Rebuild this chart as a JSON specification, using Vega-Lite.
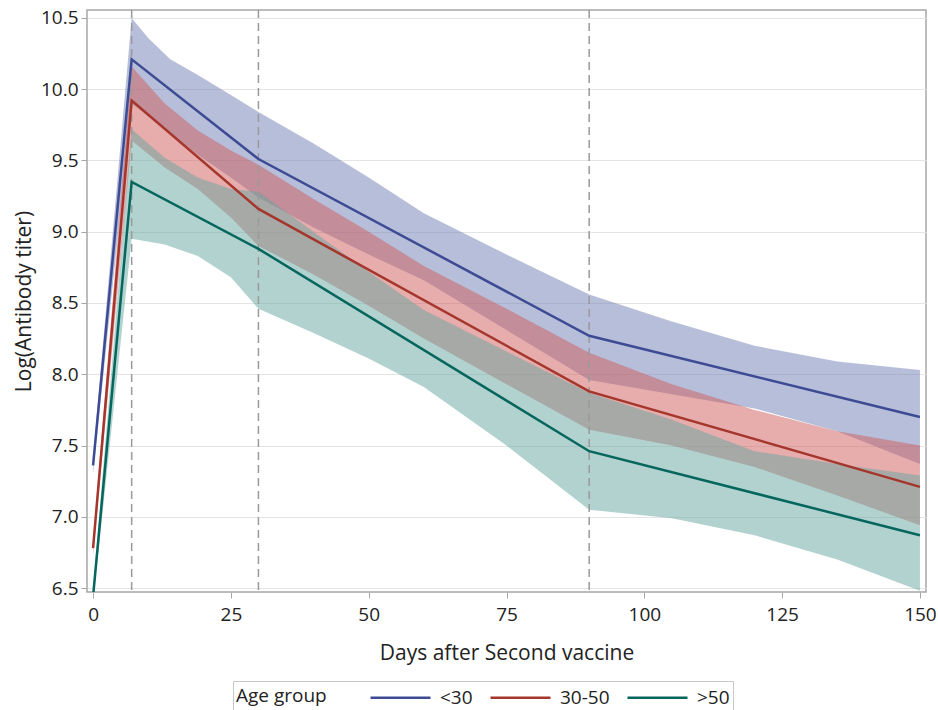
{
  "$schema": "https://vega.github.io/schema/vega-lite/v6.json",
  "width": 839,
  "height": 582,
  "autosize": {"type": "none"},
  "padding": {"left": 87, "top": 10, "right": 12, "bottom": 118},
  "config": {
    "font": "Open Sans",
    "view": {"stroke": "#a6a6a6", "strokeWidth": 1.5},
    "axis": {"labelColor": "#222222", "titleColor": "#222222", "titleFontWeight": "normal", "domain": false, "tickColor": "#a6a6a6", "tickSize": 6, "labelFontSize": 19, "titleFontSize": 21}
  },
  "datasets": {
    "bands": [
      {"cohort": "<30", "day": 0, "lo": 7.30, "hi": 7.42},
      {"cohort": "<30", "day": 7, "lo": 9.90, "hi": 10.50},
      {"cohort": "<30", "day": 10, "lo": 9.81, "hi": 10.36},
      {"cohort": "<30", "day": 14, "lo": 9.69, "hi": 10.21},
      {"cohort": "<30", "day": 19, "lo": 9.54, "hi": 10.10},
      {"cohort": "<30", "day": 25, "lo": 9.38, "hi": 9.96},
      {"cohort": "<30", "day": 30, "lo": 9.24, "hi": 9.84},
      {"cohort": "<30", "day": 40, "lo": 9.03, "hi": 9.62},
      {"cohort": "<30", "day": 50, "lo": 8.84, "hi": 9.38},
      {"cohort": "<30", "day": 60, "lo": 8.66, "hi": 9.13},
      {"cohort": "<30", "day": 75, "lo": 8.31, "hi": 8.84},
      {"cohort": "<30", "day": 90, "lo": 7.96, "hi": 8.56},
      {"cohort": "<30", "day": 105, "lo": 7.86, "hi": 8.37},
      {"cohort": "<30", "day": 120, "lo": 7.76, "hi": 8.20},
      {"cohort": "<30", "day": 135, "lo": 7.60, "hi": 8.09},
      {"cohort": "<30", "day": 150, "lo": 7.37, "hi": 8.03},
      {"cohort": "30-50", "day": 0, "lo": 6.73, "hi": 6.83},
      {"cohort": "30-50", "day": 7, "lo": 9.64, "hi": 10.16},
      {"cohort": "30-50", "day": 13, "lo": 9.45, "hi": 9.90},
      {"cohort": "30-50", "day": 19, "lo": 9.30, "hi": 9.71},
      {"cohort": "30-50", "day": 25, "lo": 9.10, "hi": 9.57},
      {"cohort": "30-50", "day": 30, "lo": 8.90, "hi": 9.47},
      {"cohort": "30-50", "day": 40, "lo": 8.70, "hi": 9.23},
      {"cohort": "30-50", "day": 50, "lo": 8.48, "hi": 9.00},
      {"cohort": "30-50", "day": 60, "lo": 8.25, "hi": 8.76},
      {"cohort": "30-50", "day": 75, "lo": 7.93, "hi": 8.46},
      {"cohort": "30-50", "day": 90, "lo": 7.61, "hi": 8.15},
      {"cohort": "30-50", "day": 105, "lo": 7.50, "hi": 7.93},
      {"cohort": "30-50", "day": 120, "lo": 7.35, "hi": 7.75},
      {"cohort": "30-50", "day": 135, "lo": 7.15, "hi": 7.60},
      {"cohort": "30-50", "day": 150, "lo": 6.94, "hi": 7.50},
      {"cohort": ">50", "day": 0, "lo": 6.40, "hi": 6.50},
      {"cohort": ">50", "day": 7, "lo": 8.95, "hi": 9.72},
      {"cohort": ">50", "day": 13, "lo": 8.91, "hi": 9.52},
      {"cohort": ">50", "day": 19, "lo": 8.83, "hi": 9.38},
      {"cohort": ">50", "day": 25, "lo": 8.68, "hi": 9.30},
      {"cohort": ">50", "day": 30, "lo": 8.46, "hi": 9.28},
      {"cohort": ">50", "day": 40, "lo": 8.29, "hi": 9.00},
      {"cohort": ">50", "day": 50, "lo": 8.11, "hi": 8.72},
      {"cohort": ">50", "day": 60, "lo": 7.91, "hi": 8.45},
      {"cohort": ">50", "day": 75, "lo": 7.50, "hi": 8.16},
      {"cohort": ">50", "day": 90, "lo": 7.05, "hi": 7.87},
      {"cohort": ">50", "day": 105, "lo": 6.99, "hi": 7.68},
      {"cohort": ">50", "day": 120, "lo": 6.87, "hi": 7.46},
      {"cohort": ">50", "day": 135, "lo": 6.70, "hi": 7.37},
      {"cohort": ">50", "day": 150, "lo": 6.48, "hi": 7.29}
    ],
    "lines": [
      {"group": "<30", "day": 0, "value": 7.36},
      {"group": "<30", "day": 7, "value": 10.21},
      {"group": "<30", "day": 30, "value": 9.51},
      {"group": "<30", "day": 90, "value": 8.27},
      {"group": "<30", "day": 150, "value": 7.70},
      {"group": "30-50", "day": 0, "value": 6.78},
      {"group": "30-50", "day": 7, "value": 9.92},
      {"group": "30-50", "day": 30, "value": 9.16},
      {"group": "30-50", "day": 90, "value": 7.88},
      {"group": "30-50", "day": 150, "value": 7.21},
      {"group": ">50", "day": 0, "value": 6.44},
      {"group": ">50", "day": 7, "value": 9.35},
      {"group": ">50", "day": 30, "value": 8.88},
      {"group": ">50", "day": 90, "value": 7.46},
      {"group": ">50", "day": 150, "value": 6.87}
    ],
    "refs": [{"day": 7}, {"day": 30}, {"day": 90}]
  },
  "layer": [
    {
      "data": {"name": "bands"},
      "mark": {"type": "area", "opacity": 0.5, "clip": true},
      "encoding": {
        "x": {"field": "day", "type": "quantitative", "scale": {"domain": [-1.1, 151.1], "nice": false, "zero": false},
              "axis": {"title": "Days after Second vaccine", "values": [0, 25, 50, 75, 100, 125, 150], "grid": false, "labelFontSize": 19, "titleFontSize": 21, "labelPadding": 7, "titlePadding": 18}},
        "y": {"field": "lo", "type": "quantitative", "scale": {"domain": [6.472, 10.556], "nice": false, "zero": false},
              "axis": {"title": "Log(Antibody titer)", "values": [6.5, 7, 7.5, 8, 8.5, 9, 9.5, 10, 10.5], "format": ".1f", "grid": true, "gridColor": "#e4e4e4", "labelFontSize": 19, "titleFontSize": 21, "labelPadding": 3, "titlePadding": 6}},
        "y2": {"field": "hi"},
        "fill": {"field": "cohort", "type": "nominal", "scale": {"domain": ["30-50", "<30", ">50"], "range": ["#D05B5B", "#6F7EB3", "#66A5A0"]}, "legend": null}
      }
    },
    {
      "data": {"name": "refs"},
      "mark": {"type": "rule", "strokeDash": [8, 5], "color": "#9a9a9a", "strokeWidth": 1.5},
      "encoding": {"x": {"field": "day", "type": "quantitative"}}
    },
    {
      "data": {"name": "lines"},
      "mark": {"type": "line", "strokeWidth": 2.5, "clip": true},
      "encoding": {
        "x": {"field": "day", "type": "quantitative"},
        "y": {"field": "value", "type": "quantitative", "title": "Log(Antibody titer)"},
        "color": {"field": "group", "type": "nominal", "scale": {"domain": ["<30", "30-50", ">50"], "range": ["#3d4b94", "#a5362c", "#04665d"]},
                  "legend": {"title": "Age group", "orient": "none", "legendX": 146, "legendY": 671, "direction": "horizontal", "titleOrient": "left", "symbolType": "M-1,0H4", "symbolSize": 576, "symbolStrokeWidth": 2.5, "labelFontSize": 19, "titleFontSize": 19, "titleFontWeight": "normal", "titleColor": "#222222", "labelColor": "#222222", "strokeColor": "#c8c8c8", "padding": 3, "columnPadding": 12, "titlePadding": 42, "labelOffset": 44}}
      }
    }
  ]
}
